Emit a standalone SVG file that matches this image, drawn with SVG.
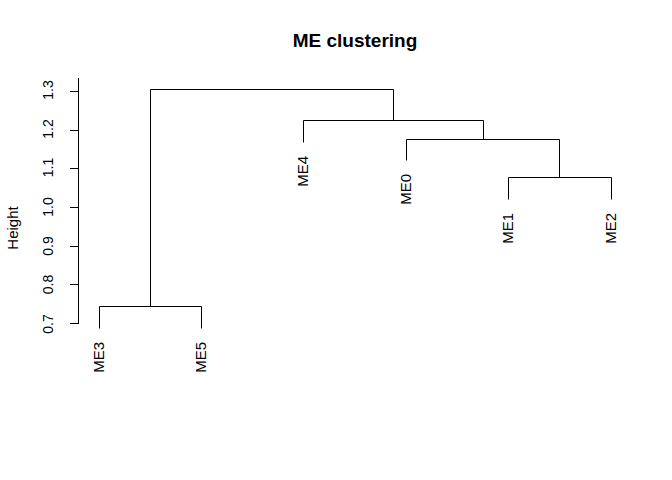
<svg xmlns="http://www.w3.org/2000/svg" width="672" height="480" viewBox="0 0 672 480">
<style>
.ln{stroke:#000;stroke-width:1;fill:none;stroke-linecap:square}
.t{font-family:"Liberation Sans",Arial,sans-serif;fill:#000}
.tick{font-size:14px}
.leaf{font-size:15px}
</style>
<rect width="672" height="480" fill="#fff"/>
<text class="t" x="355" y="47" font-size="19" font-weight="bold" text-anchor="middle">ME clustering</text>
<g id="axis">
<path class="ln" d="M78.5 78.5V323.5M70.5 91.5H78.5M70.5 130.5H78.5M70.5 168.5H78.5M70.5 207.5H78.5M70.5 246.5H78.5M70.5 284.5H78.5M70.5 323.5H78.5"/>
<g class="t tick" text-anchor="middle">
<text transform="translate(53,90) rotate(-90)">1.3</text>
<text transform="translate(53,129) rotate(-90)">1.2</text>
<text transform="translate(53,167.5) rotate(-90)">1.1</text>
<text transform="translate(53,207) rotate(-90)">1.0</text>
<text transform="translate(53,246) rotate(-90)">0.9</text>
<text transform="translate(53,284.5) rotate(-90)">0.8</text>
<text transform="translate(53,324) rotate(-90)">0.7</text>
</g>
<text class="t" font-size="15" transform="translate(18,228) rotate(-90)" text-anchor="middle">Height</text>
</g>
<g id="connectors">
<path class="ln" d="M99.5 328V306.5H201.5V328"/>
<path class="ln" d="M150.5 306.5V89.5H393.5V120.5"/>
<path class="ln" d="M303.5 142V120.5H483.5V139.5"/>
<path class="ln" d="M406.5 160V139.5H559.5V177.5"/>
<path class="ln" d="M508.5 199V177.5H611.5V199"/>
</g>
<g id="ME3"><text class="t leaf" transform="translate(104,342) rotate(-90)" text-anchor="end">ME3</text></g>
<g id="ME5"><text class="t leaf" transform="translate(206,342) rotate(-90)" text-anchor="end">ME5</text></g>
<g id="ME4"><text class="t leaf" transform="translate(308,156) rotate(-90)" text-anchor="end">ME4</text></g>
<g id="ME0"><text class="t leaf" transform="translate(411,174) rotate(-90)" text-anchor="end">ME0</text></g>
<g id="ME1"><text class="t leaf" transform="translate(513,213) rotate(-90)" text-anchor="end">ME1</text></g>
<g id="ME2"><text class="t leaf" transform="translate(616,213) rotate(-90)" text-anchor="end">ME2</text></g>
</svg>
